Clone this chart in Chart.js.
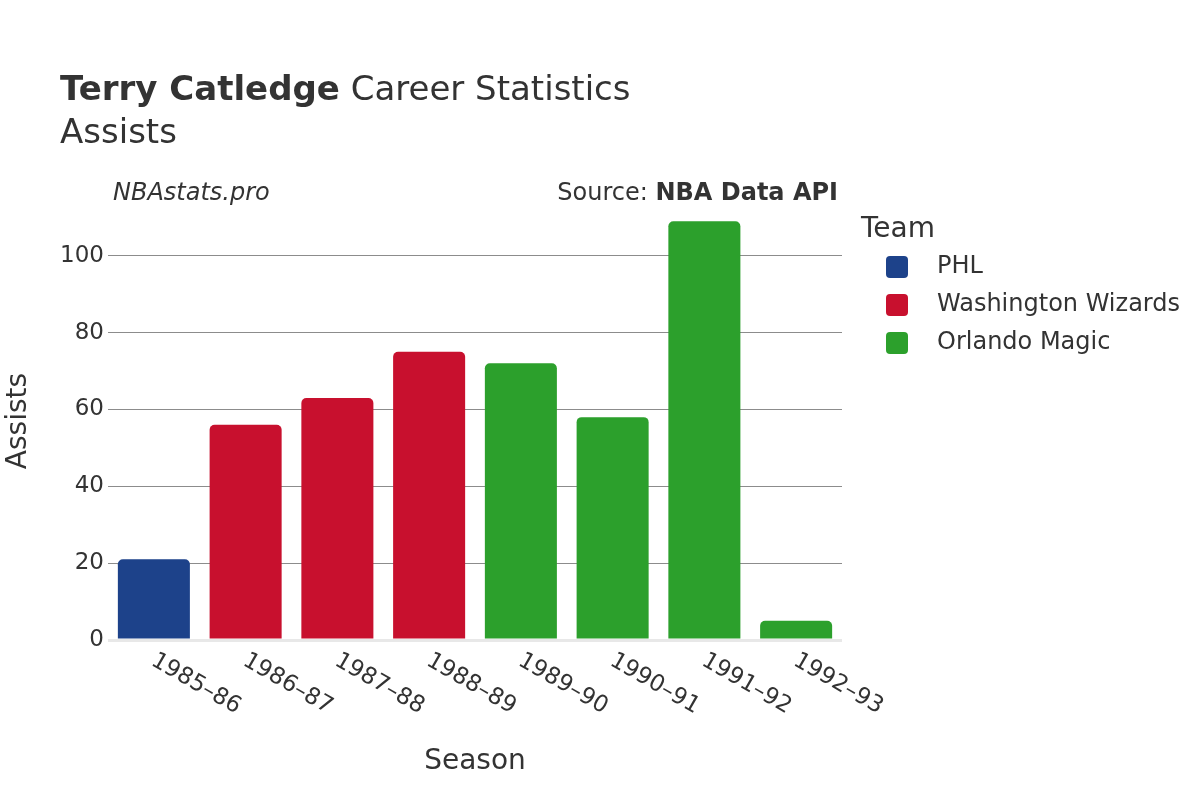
<!DOCTYPE html>
<html>
<head>
<meta charset="utf-8">
<script src="https://cdn.jsdelivr.net/npm/chart.js@4"></script>
<style>
    body { margin: 0; background: #fff; }
    canvas { display: block; }
</style>
</head>
<body>
<canvas id="assistsChart" width="1200" height="800"></canvas>
<script>
// Terry Catledge - assists per season, coloured by team

const seasons = ['1985–86', '1986–87', '1987–88', '1988–89', '1989–90', '1990–91', '1991–92', '1992–93'];
const teamNames = ['PHL', 'Washington Wizards', 'Orlando Magic'];
const teamColors = ['#1d428a', '#c8102e', '#2ca02c'];
const phlAssists = [21, null, null, null, null, null, null, null];
const wasAssists = [null, 56, 63, 75, null, null, null, null];
const orlAssists = [null, null, null, null, 72, 58, 109, 5];
const yMax = 114;
const yStep = 20;

const textColor = '#333333';
const fontFamily = '"DejaVu Sans", sans-serif';

// titles, source line, rotated season labels and the team legend
const decorations = {
    id: 'decorations',
    afterDraw: function(chart) {
        const ctx = chart.ctx;
        ctx.save();
        ctx.fillStyle = textColor;
        ctx.textBaseline = 'alphabetic';

        // title
        ctx.textAlign = 'left';
        ctx.font = 'bold 34px ' + fontFamily;
        ctx.fillText('Terry Catledge', 60, 100);
        const boldW = ctx.measureText('Terry Catledge').width;
        ctx.font = '34px ' + fontFamily;
        ctx.fillText(' Career Statistics', 60 + boldW, 100);
        ctx.fillText('Assists', 60, 143);

        // watermark + source
        ctx.font = 'italic 24px ' + fontFamily;
        ctx.fillText('NBAstats.pro', 113, 200);
        ctx.textAlign = 'right';
        ctx.font = 'bold 24px ' + fontFamily;
        ctx.fillText('NBA Data API', 838, 200);
        const srcW = ctx.measureText('NBA Data API').width;
        ctx.font = '24px ' + fontFamily;
        ctx.fillText('Source: ', 838 - srcW, 200);

        // season labels, rotated down-right
        const xScale = chart.scales.x;
        ctx.font = '23px ' + fontFamily;
        ctx.textAlign = 'left';
        ctx.textBaseline = 'middle';
        chart.data.labels.forEach(function(label, i) {
            const x = xScale.getPixelForTick(i);
            ctx.save();
            ctx.translate(x - 1, 659);
            ctx.rotate(Math.PI / 6);
            ctx.fillText(label, 0, 0);
            ctx.restore();
        });

        // legend
        ctx.textBaseline = 'alphabetic';
        ctx.font = '28px ' + fontFamily;
        ctx.fillText('Team', 861, 237);
        ctx.font = '24px ' + fontFamily;
        ctx.textBaseline = 'middle';
        chart.data.datasets.forEach(function(ds, i) {
            const cy = 267 + i * 38;
            ctx.fillStyle = ds.backgroundColor;
            ctx.beginPath();
            ctx.roundRect(886, cy - 11, 22, 22, 4);
            ctx.fill();
            ctx.fillStyle = textColor;
            ctx.fillText(ds.label, 937, cy);
        });
        ctx.restore();
    }
};

const teamData = [phlAssists, wasAssists, orlAssists];

new Chart(document.getElementById('assistsChart'), {
    type: 'bar',
    data: {
        labels: seasons,
        datasets: teamNames.map(function(name, i) {
            return {
                label: name,
                data: teamData[i],
                backgroundColor: teamColors[i],
                borderWidth: 0,
                borderRadius: 5,
                grouped: false,
                barPercentage: 0.785,
                categoryPercentage: 1
            };
        })
    },
    options: {
        responsive: false,
        animation: false,
        layout: {
            padding: { top: 202, right: 358, bottom: 0, left: 0 }
        },
        plugins: {
            legend: { display: false },
            title: { display: false },
            tooltip: { enabled: false }
        },
        scales: {
            x: {
                grid: { display: false },
                border: { display: false },
                ticks: { display: false },
                title: {
                    display: true,
                    text: 'Season',
                    color: textColor,
                    font: { family: fontFamily, size: 28 },
                    padding: { top: 0, bottom: 21 }
                },
                afterFit: function(axis) {
                    axis.height = 160;
                }
            },
            y: {
                min: 0,
                max: yMax,
                border: { display: false },
                grid: {
                    drawTicks: false,
                    color: function(c) {
                        return c.tick && c.tick.value === 0 ? '#e8e8e8' : '#8c8c8c';
                    },
                    lineWidth: function(c) {
                        return c.tick && c.tick.value === 0 ? 3 : 1;
                    }
                },
                ticks: {
                    stepSize: yStep,
                    includeBounds: false,
                    padding: 4,
                    color: textColor,
                    font: { family: fontFamily, size: 23 }
                },
                title: {
                    display: true,
                    text: 'Assists',
                    color: textColor,
                    font: { family: fontFamily, size: 28 },
                    padding: { top: 2, bottom: 0 }
                },
                afterFit: function(axis) {
                    axis.width = 108;
                }
            }
        }
    },
    plugins: [decorations]
});
</script>
</body>
</html>
